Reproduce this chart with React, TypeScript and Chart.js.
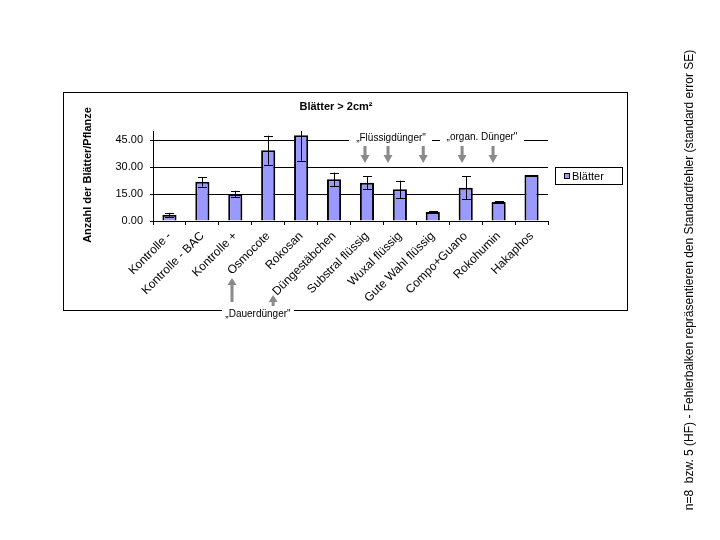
import React, { useEffect, useRef } from "react";
import { Chart, registerables } from "chart.js";

Chart.register(...registerables);

const categories = [
  "Kontrolle -",
  "Kontrolle - BAC",
  "Kontrolle +",
  "Osmocote",
  "Rokosan",
  "Düngestäbchen",
  "Substral flüssig",
  "Wuxal flüssig",
  "Gute Wahl flüssig",
  "Compo+Guano",
  "Rokohumin",
  "Hakaphos",
];
const values = [3.5, 21.8, 15.0, 39.3, 47.7, 23.2, 21.3, 17.6, 5.0, 18.5, 10.6, 25.6];
const errors = [1.0, 2.7, 1.8, 8.1, 14.2, 3.7, 3.5, 4.8, 0.4, 6.5, 0.5, 0];
const yTicks = [0, 15, 30, 45];
const seriesName = "Blätter";
const chartTitle = "Blätter > 2cm²";
const yTitle = "Anzahl der Blätter/Pflanze";
const footnote =
  "n=8  bzw. 5 (HF) - Fehlerbalken repräsentieren den Standardfehler (standard error SE)";
const topLabelA = "„Flüssigdünger\"";
const topLabelB = "„organ. Dünger\"";
const bottomLabel = "„Dauerdünger\"";
// arrow positions expressed in category units (0 = first category centre)
const downArrowPos = [5.94, 6.64, 7.71, 8.89, 9.83];
const upArrowPos = [1.9, 3.15];

const FONT = "'Liberation Sans', Arial, sans-serif";
const BAR_FILL = "#9999ff";
const GREY = "#8a8a8a";

const errorBars = {
  id: "errorBars",
  afterDatasetsDraw(chart: any) {
    const ctx = chart.ctx;
    const ca = chart.chartArea;
    const y = chart.scales.y;
    const meta = chart.getDatasetMeta(0);
    ctx.save();
    ctx.strokeStyle = "#000";
    ctx.lineWidth = 1;
    meta.data.forEach((bar: any, i: number) => {
      const e = errors[i];
      if (!e) return;
      const x = Math.round(bar.x) + 0.5;
      let top = y.getPixelForValue(values[i] + e);
      const bot = y.getPixelForValue(values[i] - e);
      const clipped = top < ca.top;
      if (clipped) top = ca.top;
      ctx.beginPath();
      ctx.moveTo(x, top);
      ctx.lineTo(x, bot);
      if (!clipped) {
        ctx.moveTo(x - 4.5, Math.round(top) + 0.5);
        ctx.lineTo(x + 4.5, Math.round(top) + 0.5);
      }
      ctx.moveTo(x - 4.5, Math.round(bot) + 0.5);
      ctx.lineTo(x + 4.5, Math.round(bot) + 0.5);
      ctx.stroke();
    });
    ctx.restore();
  },
};

const decorations = {
  id: "decorations",
  afterDraw(chart: any) {
    const ctx = chart.ctx;
    const ca = chart.chartArea;
    const n = categories.length;
    const cw = (ca.right - ca.left) / n;
    const px = (p: number) => ca.left + (p + 0.5) * cw;
    ctx.save();

    // outer frame
    ctx.strokeStyle = "#000";
    ctx.lineWidth = 1;
    ctx.strokeRect(63.5, 92.5, 564, 218);

    // title
    ctx.fillStyle = "#000";
    ctx.font = `bold 11px ${FONT}`;
    ctx.textAlign = "center";
    ctx.textBaseline = "middle";
    ctx.fillText(chartTitle, 336, 107);

    // y axis title
    ctx.save();
    ctx.translate(88, 175);
    ctx.rotate(-Math.PI / 2);
    ctx.font = `bold 11px ${FONT}`;
    ctx.fillText(yTitle, 0, 0);
    ctx.restore();

    // footnote
    ctx.save();
    ctx.translate(690, 280);
    ctx.rotate(-Math.PI / 2);
    ctx.font = `12px ${FONT}`;
    ctx.fillText(footnote, 0, 0);
    ctx.restore();

    // legend
    ctx.strokeRect(555.5, 167.5, 67, 17);
    ctx.fillStyle = BAR_FILL;
    ctx.fillRect(564, 173, 5, 5);
    ctx.strokeRect(564.5, 173.5, 5, 5);
    ctx.fillStyle = "#000";
    ctx.font = `11px ${FONT}`;
    ctx.textAlign = "left";
    ctx.fillText(seriesName, 572, 176.5);

    // top group labels (cover gridline with white)
    ctx.fillStyle = "#fff";
    ctx.fillRect(349, 132, 83, 14);
    ctx.fillRect(440, 132, 84, 14);
    ctx.fillStyle = "#000";
    ctx.font = `10px ${FONT}`;
    ctx.textAlign = "center";
    ctx.fillText(topLabelA, 391, 138);
    ctx.fillText(topLabelB, 482, 137);

    // bottom group label over frame edge
    ctx.fillStyle = "#fff";
    ctx.fillRect(222, 305, 72, 14);
    ctx.fillStyle = "#000";
    ctx.fillText(bottomLabel, 258, 314);

    // arrows
    ctx.fillStyle = GREY;
    downArrowPos.forEach((p) => {
      const x = px(p);
      ctx.fillRect(x - 1.5, 146, 3, 10);
      ctx.beginPath();
      ctx.moveTo(x - 4.5, 155);
      ctx.lineTo(x + 4.5, 155);
      ctx.lineTo(x, 163);
      ctx.closePath();
      ctx.fill();
    });
    const upSpecs = [
      { tip: 278, bottom: 302 },
      { tip: 295, bottom: 306 },
    ];
    upArrowPos.forEach((p, i) => {
      const x = px(p);
      const s = upSpecs[i];
      ctx.fillRect(x - 1.5, s.tip + 6, 3, s.bottom - s.tip - 6);
      ctx.beginPath();
      ctx.moveTo(x - 4.5, s.tip + 7);
      ctx.lineTo(x + 4.5, s.tip + 7);
      ctx.lineTo(x, s.tip);
      ctx.closePath();
      ctx.fill();
    });

    ctx.restore();
  },
};

export default function App() {
  const ref = useRef<HTMLCanvasElement | null>(null);

  useEffect(() => {
    if (!ref.current) return;
    const chart = new Chart(ref.current, {
      type: "bar",
      data: {
        labels: categories,
        datasets: [
          {
            label: seriesName,
            data: values,
            backgroundColor: BAR_FILL,
            borderColor: "#000",
            borderWidth: 2,
            barPercentage: 0.43,
            categoryPercentage: 1,
          },
        ],
      },
      options: {
        responsive: false,
        animation: false,
        devicePixelRatio: 1,
        layout: { padding: { left: 0, top: 131, right: 172, bottom: 219 } },
        plugins: {
          legend: { display: false },
          title: { display: false },
          tooltip: { enabled: false },
        },
        scales: {
          x: {
            afterFit: (s: any) => {
              s.height = 100;
            },
            ticks: {
              minRotation: 45,
              maxRotation: 45,
              autoSkip: false,
              padding: 4,
              color: "#000",
              font: { family: FONT, size: 12 },
            },
            grid: {
              drawOnChartArea: false,
              drawTicks: true,
              tickLength: 4,
              color: "#000",
              offset: true,
            },
            border: { color: "#000", width: 1 },
          },
          y: {
            min: 0,
            max: 50,
            afterFit: (s: any) => {
              s.width = 153;
            },
            afterBuildTicks: (s: any) => {
              s.ticks = yTicks.map((v) => ({ value: v }));
            },
            ticks: {
              padding: 7,
              color: "#000",
              font: { family: FONT, size: 11 },
              callback: (v: any) => Number(v).toFixed(2),
            },
            grid: { color: "#000", lineWidth: 1, tickLength: 3 },
            border: { color: "#000", width: 1 },
          },
        },
      },
      plugins: [errorBars, decorations],
    });
    return () => chart.destroy();
  }, []);

  return (
    <div
      style={{
        position: "absolute",
        left: 0,
        top: 0,
        width: 720,
        height: 540,
        background: "#fff",
      }}
    >
      <canvas ref={ref} width={720} height={540} style={{ display: "block" }} />
    </div>
  );
}
